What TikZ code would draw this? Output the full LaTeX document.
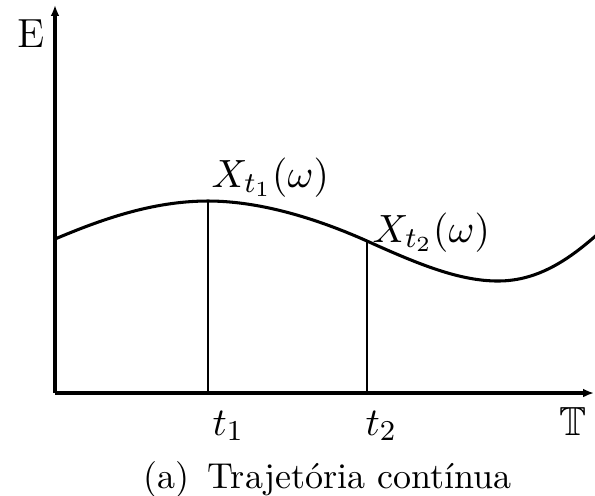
\documentclass[tikz,border=0pt]{standalone}
\usepackage{fontspec}
\usepackage{amssymb}
\usetikzlibrary{arrows.meta}
\tikzset{
  axis/.style={line width=0.85pt,-{Latex[length=3pt,width=2.4pt]}},
  traj/.style={line width=0.85pt},
  mark line/.style={line width=0.8pt},
  lbl/.style={inner sep=0pt,font=\fontsize{11.3}{14}\selectfont},
  captext/.style={inner sep=0pt,font=\fontsize{10}{12}\selectfont}
}
\begin{document}
\begin{tikzpicture}[x=0.2778pt,y=-0.2778pt]
\useasboundingbox (0,0) rectangle (595,495);
\coordinate (O) at (55,393);
\coordinate (ytip) at (55,5);
\coordinate (xtip) at (594,393);
\coordinate (c0) at (55,239);
\coordinate (p1) at (208,201);
\coordinate (p2) at (367,241);
\coordinate (m) at (498,281);
\coordinate (c4) at (600,232);
\coordinate (b1) at (208,393);
\coordinate (b2) at (367,393);
% trajectory
\draw[traj] (c0) .. controls (100,220) and (152,201) .. (p1)
  .. controls (262,201) and (320,220) .. (p2)
  .. controls (420,265) and (460,281) .. (m)
  .. controls (540,281) and (572,257) .. (c4);
% vertical marks
\draw[mark line] (b1) -- (p1);
\draw[mark line] (b2) -- (p2);
% axes
\draw[axis] (O) -- (ytip);
\draw[axis] (O) -- (xtip);
% labels
\node[lbl,anchor=base] (E) at (31,47) {E};
\node[lbl,anchor=base] (T) at (573,435) {$\mathbb{T}$};
\node[lbl,anchor=base west] (t1) at (212,435) {$t_1$};
\node[lbl,anchor=base west] (t2) at (365,435) {$t_2$};
\node[lbl,anchor=base west] (X1) at (211,187) {$X_{t_1}(\omega)$};
\node[lbl,anchor=base west] (X2) at (372,242) {$X_{t_2}(\omega)$};
\node[captext,anchor=base] (caption) at (327.5,488) {(a)\hspace{0.5em}Trajetória contínua};
\end{tikzpicture}
\end{document}
